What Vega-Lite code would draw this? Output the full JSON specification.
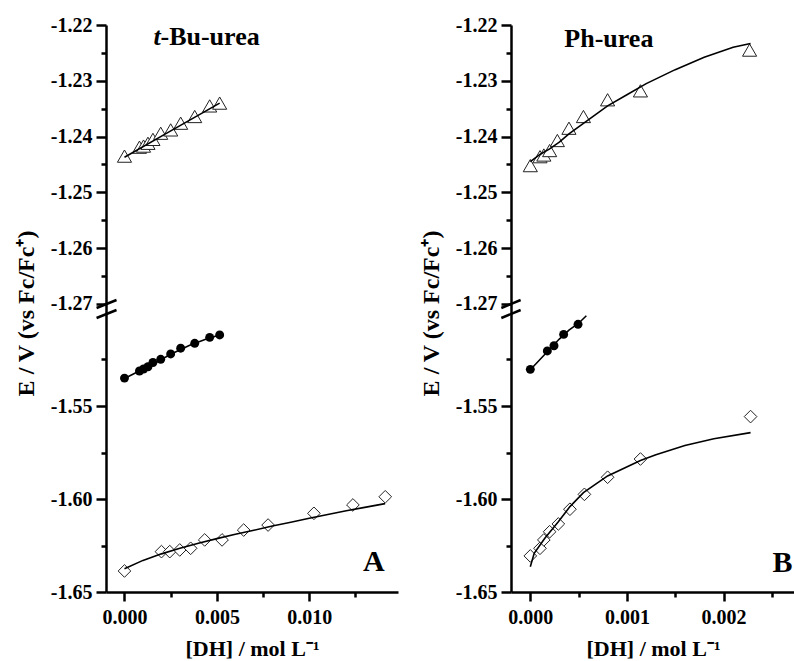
{
  "$schema": "https://vega.github.io/schema/vega-lite/v6.json",
  "background": "white",
  "padding": {"left": 14, "top": 15, "right": 0, "bottom": 0},
  "config": {
    "view": {"stroke": null},
    "font": "Liberation Serif",
    "locale": {"number": {"decimal": ".", "thousands": ",", "grouping": [3], "currency": ["$", ""], "minus": "-"}},
    "axis": {
      "grid": false,
      "domainColor": "black",
      "domainWidth": 2.5,
      "tickColor": "black",
      "tickWidth": 2.5,
      "labelColor": "black",
      "labelFont": "Liberation Serif",
      "labelFontWeight": "bold",
      "labelFontSize": 20,
      "titleColor": "black",
      "titleFont": "Liberation Serif",
      "titleFontWeight": "bold",
      "titleFontSize": 22
    }
  },
  "datasets": {
    "pts": [
      {"p": "A", "s": "tri", "x": 0, "y": -1.2435},
      {"p": "A", "s": "tri", "x": 0.00081, "y": -1.2419},
      {"p": "A", "s": "tri", "x": 0.00103, "y": -1.2417},
      {"p": "A", "s": "tri", "x": 0.00127, "y": -1.2412},
      {"p": "A", "s": "tri", "x": 0.00154, "y": -1.2405},
      {"p": "A", "s": "tri", "x": 0.00196, "y": -1.2394},
      {"p": "A", "s": "tri", "x": 0.0025, "y": -1.2388},
      {"p": "A", "s": "tri", "x": 0.00304, "y": -1.2376},
      {"p": "A", "s": "tri", "x": 0.0038, "y": -1.2364},
      {"p": "A", "s": "tri", "x": 0.00461, "y": -1.2345},
      {"p": "A", "s": "tri", "x": 0.00515, "y": -1.234},
      {"p": "A", "s": "cir", "x": 0, "y": -1.535},
      {"p": "A", "s": "cir", "x": 0.00081, "y": -1.5312},
      {"p": "A", "s": "cir", "x": 0.00103, "y": -1.5301},
      {"p": "A", "s": "cir", "x": 0.00127, "y": -1.5289},
      {"p": "A", "s": "cir", "x": 0.00154, "y": -1.5266},
      {"p": "A", "s": "cir", "x": 0.00196, "y": -1.5249},
      {"p": "A", "s": "cir", "x": 0.0025, "y": -1.522},
      {"p": "A", "s": "cir", "x": 0.00304, "y": -1.5189},
      {"p": "A", "s": "cir", "x": 0.0038, "y": -1.5163},
      {"p": "A", "s": "cir", "x": 0.00461, "y": -1.5131},
      {"p": "A", "s": "cir", "x": 0.00515, "y": -1.5118},
      {"p": "A", "s": "dia", "x": 0, "y": -1.6387},
      {"p": "A", "s": "dia", "x": 0.002, "y": -1.6283},
      {"p": "A", "s": "dia", "x": 0.00245, "y": -1.6283},
      {"p": "A", "s": "dia", "x": 0.00299, "y": -1.6274},
      {"p": "A", "s": "dia", "x": 0.00358, "y": -1.6265},
      {"p": "A", "s": "dia", "x": 0.00434, "y": -1.622},
      {"p": "A", "s": "dia", "x": 0.00528, "y": -1.622},
      {"p": "A", "s": "dia", "x": 0.00645, "y": -1.6167},
      {"p": "A", "s": "dia", "x": 0.00777, "y": -1.614},
      {"p": "A", "s": "dia", "x": 0.01025, "y": -1.6077},
      {"p": "A", "s": "dia", "x": 0.01236, "y": -1.6032},
      {"p": "A", "s": "dia", "x": 0.01411, "y": -1.5988},
      {"p": "B", "s": "tri", "x": 0, "y": -1.2452},
      {"p": "B", "s": "tri", "x": 0.0001, "y": -1.2436},
      {"p": "B", "s": "tri", "x": 0.00014, "y": -1.2433},
      {"p": "B", "s": "tri", "x": 0.0002, "y": -1.2425},
      {"p": "B", "s": "tri", "x": 0.00028, "y": -1.2407},
      {"p": "B", "s": "tri", "x": 0.0004, "y": -1.2385},
      {"p": "B", "s": "tri", "x": 0.00055, "y": -1.2364},
      {"p": "B", "s": "tri", "x": 0.0008, "y": -1.2334},
      {"p": "B", "s": "tri", "x": 0.00114, "y": -1.2318},
      {"p": "B", "s": "tri", "x": 0.00227, "y": -1.2245},
      {"p": "B", "s": "cir", "x": 0, "y": -1.5303},
      {"p": "B", "s": "cir", "x": 0.000176, "y": -1.5204},
      {"p": "B", "s": "cir", "x": 0.000245, "y": -1.5176},
      {"p": "B", "s": "cir", "x": 0.000345, "y": -1.5115},
      {"p": "B", "s": "cir", "x": 0.000494, "y": -1.5061},
      {"p": "B", "s": "dia", "x": 0, "y": -1.6306},
      {"p": "B", "s": "dia", "x": 0.0001, "y": -1.6265},
      {"p": "B", "s": "dia", "x": 0.00014, "y": -1.622},
      {"p": "B", "s": "dia", "x": 0.0002, "y": -1.6176},
      {"p": "B", "s": "dia", "x": 0.00029, "y": -1.6134},
      {"p": "B", "s": "dia", "x": 0.00041, "y": -1.6055},
      {"p": "B", "s": "dia", "x": 0.00056, "y": -1.5975},
      {"p": "B", "s": "dia", "x": 0.0008, "y": -1.5883},
      {"p": "B", "s": "dia", "x": 0.00114, "y": -1.5785},
      {"p": "B", "s": "dia", "x": 0.00228, "y": -1.5557}
    ],
    "fit": [
      {"p": "A", "s": "tri", "x": 0, "y": -1.2437},
      {"p": "A", "s": "tri", "x": 0.0026, "y": -1.2388},
      {"p": "A", "s": "tri", "x": 0.00515, "y": -1.234},
      {"p": "A", "s": "cir", "x": 0, "y": -1.5352},
      {"p": "A", "s": "cir", "x": 0.0008, "y": -1.5312},
      {"p": "A", "s": "cir", "x": 0.0016, "y": -1.5272},
      {"p": "A", "s": "cir", "x": 0.0025, "y": -1.5222},
      {"p": "A", "s": "cir", "x": 0.0035, "y": -1.5175},
      {"p": "A", "s": "cir", "x": 0.0045, "y": -1.5137},
      {"p": "A", "s": "cir", "x": 0.00515, "y": -1.5118},
      {"p": "A", "s": "dia", "x": 0, "y": -1.6375},
      {"p": "A", "s": "dia", "x": 0.001, "y": -1.633},
      {"p": "A", "s": "dia", "x": 0.002, "y": -1.6295},
      {"p": "A", "s": "dia", "x": 0.003, "y": -1.6265},
      {"p": "A", "s": "dia", "x": 0.004, "y": -1.6238},
      {"p": "A", "s": "dia", "x": 0.005, "y": -1.6213},
      {"p": "A", "s": "dia", "x": 0.006, "y": -1.619},
      {"p": "A", "s": "dia", "x": 0.007, "y": -1.6168},
      {"p": "A", "s": "dia", "x": 0.008, "y": -1.6145},
      {"p": "A", "s": "dia", "x": 0.009, "y": -1.6125},
      {"p": "A", "s": "dia", "x": 0.01, "y": -1.6103},
      {"p": "A", "s": "dia", "x": 0.011, "y": -1.6083},
      {"p": "A", "s": "dia", "x": 0.012, "y": -1.6063},
      {"p": "A", "s": "dia", "x": 0.013, "y": -1.6045},
      {"p": "A", "s": "dia", "x": 0.0141, "y": -1.6025},
      {"p": "B", "s": "tri", "x": 0, "y": -1.2445},
      {"p": "B", "s": "tri", "x": 0.0001, "y": -1.2432},
      {"p": "B", "s": "tri", "x": 0.0002, "y": -1.2422},
      {"p": "B", "s": "tri", "x": 0.0003, "y": -1.241},
      {"p": "B", "s": "tri", "x": 0.0004, "y": -1.2395},
      {"p": "B", "s": "tri", "x": 0.0006, "y": -1.237},
      {"p": "B", "s": "tri", "x": 0.0008, "y": -1.2345},
      {"p": "B", "s": "tri", "x": 0.001, "y": -1.2325},
      {"p": "B", "s": "tri", "x": 0.0012, "y": -1.2305},
      {"p": "B", "s": "tri", "x": 0.0015, "y": -1.228},
      {"p": "B", "s": "tri", "x": 0.0018, "y": -1.2258},
      {"p": "B", "s": "tri", "x": 0.0021, "y": -1.224},
      {"p": "B", "s": "tri", "x": 0.00228, "y": -1.2233},
      {"p": "B", "s": "cir", "x": 0, "y": -1.5305},
      {"p": "B", "s": "cir", "x": 0.0001, "y": -1.525},
      {"p": "B", "s": "cir", "x": 0.0002, "y": -1.5195},
      {"p": "B", "s": "cir", "x": 0.0003, "y": -1.514},
      {"p": "B", "s": "cir", "x": 0.0004, "y": -1.5092},
      {"p": "B", "s": "cir", "x": 0.0005, "y": -1.5055},
      {"p": "B", "s": "cir", "x": 0.00058, "y": -1.5015},
      {"p": "B", "s": "dia", "x": 0, "y": -1.6364},
      {"p": "B", "s": "dia", "x": 0.00004, "y": -1.6292},
      {"p": "B", "s": "dia", "x": 0.00015, "y": -1.6211},
      {"p": "B", "s": "dia", "x": 0.00029, "y": -1.6122},
      {"p": "B", "s": "dia", "x": 0.00041, "y": -1.6041},
      {"p": "B", "s": "dia", "x": 0.00055, "y": -1.5966},
      {"p": "B", "s": "dia", "x": 0.0008, "y": -1.5876},
      {"p": "B", "s": "dia", "x": 0.00114, "y": -1.5793},
      {"p": "B", "s": "dia", "x": 0.0013, "y": -1.5762},
      {"p": "B", "s": "dia", "x": 0.0016, "y": -1.5712},
      {"p": "B", "s": "dia", "x": 0.0019, "y": -1.5676},
      {"p": "B", "s": "dia", "x": 0.00228, "y": -1.5643}
    ],
    "lab": [
      {"p": "A", "k": "ital", "t": "t", "x": 0.00157, "y": -1.2236},
      {"p": "A", "k": "name", "t": "-Bu-urea", "x": 0.00157, "y": -1.2236},
      {"p": "B", "k": "name", "t": "Ph-urea", "x": 0.000352, "y": -1.2239},
      {"p": "A", "k": "letter", "t": "A", "x": 0.0129, "y": -1.6387},
      {"p": "B", "k": "letter", "t": "B", "x": 0.002508, "y": -1.6392}
    ],
    "brk": [
      {"p": "A", "x": -0.00151, "y": -1.27072, "x2": -0.00043, "y2": -1.26928},
      {"p": "A", "x": -0.00151, "y": -1.27251, "x2": -0.00043, "y2": -1.27108},
      {"p": "B", "x": -0.0003, "y": -1.27072, "x2": -0.0001, "y2": -1.26928},
      {"p": "B", "x": -0.0003, "y": -1.27251, "x2": -0.0001, "y2": -1.27108}
    ]
  },
  "spacing": 21,
  "hconcat": [
    {
      "bounds": "flush",
      "spacing": 0,
      "vconcat": [
        {
          "width": 292,
          "height": 288,
          "resolve": {"axis": {"x": "independent", "y": "independent"}},
          "layer": [
            {
              "data": {"name": "pts"},
              "transform": [{"filter": "datum.p === 'A' && datum.s === 'tri'"}],
              "mark": {"type": "point", "shape": "triangle-up", "filled": true, "fill": "white", "stroke": "#222", "strokeWidth": 1, "size": 200, "opacity": 1},
              "encoding": {
                "x": {"field": "x", "type": "quantitative", "scale": {"domain": [-0.001, 0.0148], "nice": false, "zero": false}, "axis": null},
                "y": {"field": "y", "type": "quantitative", "scale": {"domain": [-1.271613, -1.22], "nice": false, "zero": false},
                  "axis": {"orient": "left", "values": [-1.27, -1.26, -1.25, -1.24, -1.23, -1.22], "format": ".2f", "tickSize": 10, "labelPadding": 4,
                    "title": "E / V (vs Fc/Fc⁺)", "titleFontSize": 24, "titleAngle": -90, "titleX": -73, "titleY": 288, "titleAlign": "center", "titleBaseline": "alphabetic"}}
              }
            },
            {
              "data": {"name": "fit"},
              "transform": [{"filter": "datum.p === 'A' && datum.s === 'tri'"}],
              "mark": {"type": "line", "color": "black", "strokeWidth": 1.6},
              "encoding": {
                "x": {"field": "x", "type": "quantitative", "scale": {"domain": [-0.001, 0.0148], "nice": false, "zero": false}, "axis": null},
                "y": {"field": "y", "type": "quantitative", "scale": {"domain": [-1.271613, -1.22], "nice": false, "zero": false},
                  "axis": {"orient": "left", "values": [-1.265, -1.255, -1.245, -1.235, -1.225], "labels": false, "domain": false, "tickSize": 5, "title": null}}
              }
            },
            {
              "data": {"name": "lab"},
              "transform": [{"filter": "datum.p === 'A' && datum.k === 'ital'"}],
              "mark": {"type": "text", "align": "left", "baseline": "alphabetic", "font": "Liberation Serif", "fontSize": 26, "fontWeight": "bold", "fontStyle": "italic", "color": "black"},
              "encoding": {
                "x": {"field": "x", "type": "quantitative", "scale": {"domain": [-0.001, 0.0148], "nice": false, "zero": false}, "axis": null},
                "y": {"field": "y", "type": "quantitative", "scale": {"domain": [-1.271613, -1.22], "nice": false, "zero": false}, "axis": null},
                "text": {"field": "t"}
              }
            },
            {
              "data": {"name": "lab"},
              "transform": [{"filter": "datum.p === 'A' && datum.k === 'name'"}],
              "mark": {"type": "text", "align": "left", "baseline": "alphabetic", "dx": 7, "font": "Liberation Serif", "fontSize": 26, "fontWeight": "bold", "color": "black"},
              "encoding": {
                "x": {"field": "x", "type": "quantitative", "scale": {"domain": [-0.001, 0.0148], "nice": false, "zero": false}, "axis": null},
                "y": {"field": "y", "type": "quantitative", "scale": {"domain": [-1.271613, -1.22], "nice": false, "zero": false}, "axis": null},
                "text": {"field": "t"}
              }
            },
            {
              "data": {"name": "brk"},
              "transform": [{"filter": "datum.p === 'A'"}],
              "mark": {"type": "rule", "color": "black", "strokeWidth": 2.5},
              "encoding": {
                "x": {"field": "x", "type": "quantitative", "scale": {"domain": [-0.001, 0.0148], "nice": false, "zero": false}, "axis": null},
                "y": {"field": "y", "type": "quantitative", "scale": {"domain": [-1.271613, -1.22], "nice": false, "zero": false}, "axis": null},
                "x2": {"field": "x2"},
                "y2": {"field": "y2"}
              }
            }
          ]
        },
        {
          "width": 292,
          "height": 279,
          "resolve": {"axis": {"x": "independent", "y": "independent"}},
          "layer": [
            {
              "data": {"name": "pts"},
              "transform": [{"filter": "datum.p === 'A' && datum.s === 'dia'"}],
              "mark": {"type": "point", "shape": "diamond", "filled": true, "fill": "white", "stroke": "#222", "strokeWidth": 1, "size": 160, "opacity": 1},
              "encoding": {
                "x": {"field": "x", "type": "quantitative", "scale": {"domain": [-0.001, 0.0148], "nice": false, "zero": false},
                  "axis": {"orient": "bottom", "values": [0, 0.005, 0.01], "format": ".3f", "tickSize": 9, "labelPadding": 6,
                    "title": "[DH] / mol L⁻¹", "titleY": 63, "titleBaseline": "alphabetic"}},
                "y": {"field": "y", "type": "quantitative", "scale": {"domain": [-1.65, -1.5], "nice": false, "zero": false},
                  "axis": {"orient": "left", "values": [-1.65, -1.6, -1.55], "format": ".2f", "tickSize": 10, "labelPadding": 4, "title": null}}
              }
            },
            {
              "data": {"name": "pts"},
              "transform": [{"filter": "datum.p === 'A' && datum.s === 'cir'"}],
              "mark": {"type": "point", "shape": "circle", "filled": true, "color": "black", "size": 80, "opacity": 1},
              "encoding": {
                "x": {"field": "x", "type": "quantitative", "scale": {"domain": [-0.001, 0.0148], "nice": false, "zero": false}, "axis": null},
                "y": {"field": "y", "type": "quantitative", "scale": {"domain": [-1.65, -1.5], "nice": false, "zero": false}, "axis": null}
              }
            },
            {
              "data": {"name": "fit"},
              "transform": [{"filter": "datum.p === 'A' && datum.s !== 'tri'"}],
              "mark": {"type": "line", "color": "black", "strokeWidth": 1.6},
              "encoding": {
                "x": {"field": "x", "type": "quantitative", "scale": {"domain": [-0.001, 0.0148], "nice": false, "zero": false},
                  "axis": {"orient": "bottom", "values": [0.0025, 0.0075, 0.0125], "labels": false, "domain": false, "tickSize": 5, "title": null}},
                "y": {"field": "y", "type": "quantitative", "scale": {"domain": [-1.65, -1.5], "nice": false, "zero": false},
                  "axis": {"orient": "left", "values": [-1.625, -1.575, -1.525], "labels": false, "domain": false, "tickSize": 5, "title": null}},
                "detail": {"field": "s"}
              }
            },
            {
              "data": {"name": "lab"},
              "transform": [{"filter": "datum.p === 'A' && datum.k === 'letter'"}],
              "mark": {"type": "text", "align": "left", "baseline": "alphabetic", "font": "Liberation Serif", "fontSize": 30, "fontWeight": "bold", "color": "black"},
              "encoding": {
                "x": {"field": "x", "type": "quantitative", "scale": {"domain": [-0.001, 0.0148], "nice": false, "zero": false}, "axis": null},
                "y": {"field": "y", "type": "quantitative", "scale": {"domain": [-1.65, -1.5], "nice": false, "zero": false}, "axis": null},
                "text": {"field": "t"}
              }
            }
          ]
        }
      ]
    },
    {
      "bounds": "flush",
      "spacing": 0,
      "vconcat": [
        {
          "width": 284,
          "height": 288,
          "resolve": {"axis": {"x": "independent", "y": "independent"}},
          "layer": [
            {
              "data": {"name": "pts"},
              "transform": [{"filter": "datum.p === 'B' && datum.s === 'tri'"}],
              "mark": {"type": "point", "shape": "triangle-up", "filled": true, "fill": "white", "stroke": "#222", "strokeWidth": 1, "size": 200, "opacity": 1},
              "encoding": {
                "x": {"field": "x", "type": "quantitative", "scale": {"domain": [-0.0002, 0.00274], "nice": false, "zero": false}, "axis": null},
                "y": {"field": "y", "type": "quantitative", "scale": {"domain": [-1.271613, -1.22], "nice": false, "zero": false},
                  "axis": {"orient": "left", "values": [-1.27, -1.26, -1.25, -1.24, -1.23, -1.22], "format": ".2f", "tickSize": 10, "labelPadding": 4,
                    "title": "E / V (vs Fc/Fc⁺)", "titleFontSize": 24, "titleAngle": -90, "titleX": -73, "titleY": 288, "titleAlign": "center", "titleBaseline": "alphabetic"}}
              }
            },
            {
              "data": {"name": "fit"},
              "transform": [{"filter": "datum.p === 'B' && datum.s === 'tri'"}],
              "mark": {"type": "line", "color": "black", "strokeWidth": 1.6},
              "encoding": {
                "x": {"field": "x", "type": "quantitative", "scale": {"domain": [-0.0002, 0.00274], "nice": false, "zero": false}, "axis": null},
                "y": {"field": "y", "type": "quantitative", "scale": {"domain": [-1.271613, -1.22], "nice": false, "zero": false},
                  "axis": {"orient": "left", "values": [-1.265, -1.255, -1.245, -1.235, -1.225], "labels": false, "domain": false, "tickSize": 5, "title": null}}
              }
            },
            {
              "data": {"name": "lab"},
              "transform": [{"filter": "datum.p === 'B' && datum.k === 'name'"}],
              "mark": {"type": "text", "align": "left", "baseline": "alphabetic", "font": "Liberation Serif", "fontSize": 26, "fontWeight": "bold", "color": "black"},
              "encoding": {
                "x": {"field": "x", "type": "quantitative", "scale": {"domain": [-0.0002, 0.00274], "nice": false, "zero": false}, "axis": null},
                "y": {"field": "y", "type": "quantitative", "scale": {"domain": [-1.271613, -1.22], "nice": false, "zero": false}, "axis": null},
                "text": {"field": "t"}
              }
            },
            {
              "data": {"name": "brk"},
              "transform": [{"filter": "datum.p === 'B'"}],
              "mark": {"type": "rule", "color": "black", "strokeWidth": 2.5},
              "encoding": {
                "x": {"field": "x", "type": "quantitative", "scale": {"domain": [-0.0002, 0.00274], "nice": false, "zero": false}, "axis": null},
                "y": {"field": "y", "type": "quantitative", "scale": {"domain": [-1.271613, -1.22], "nice": false, "zero": false}, "axis": null},
                "x2": {"field": "x2"},
                "y2": {"field": "y2"}
              }
            }
          ]
        },
        {
          "width": 284,
          "height": 279,
          "resolve": {"axis": {"x": "independent", "y": "independent"}},
          "layer": [
            {
              "data": {"name": "pts"},
              "transform": [{"filter": "datum.p === 'B' && datum.s === 'dia'"}],
              "mark": {"type": "point", "shape": "diamond", "filled": true, "fill": "white", "stroke": "#222", "strokeWidth": 1, "size": 160, "opacity": 1},
              "encoding": {
                "x": {"field": "x", "type": "quantitative", "scale": {"domain": [-0.0002, 0.00274], "nice": false, "zero": false},
                  "axis": {"orient": "bottom", "values": [0, 0.001, 0.002], "format": ".3f", "tickSize": 9, "labelPadding": 6,
                    "title": "[DH] / mol L⁻¹", "titleY": 63, "titleBaseline": "alphabetic"}},
                "y": {"field": "y", "type": "quantitative", "scale": {"domain": [-1.65, -1.5], "nice": false, "zero": false},
                  "axis": {"orient": "left", "values": [-1.65, -1.6, -1.55], "format": ".2f", "tickSize": 10, "labelPadding": 4, "title": null}}
              }
            },
            {
              "data": {"name": "pts"},
              "transform": [{"filter": "datum.p === 'B' && datum.s === 'cir'"}],
              "mark": {"type": "point", "shape": "circle", "filled": true, "color": "black", "size": 80, "opacity": 1},
              "encoding": {
                "x": {"field": "x", "type": "quantitative", "scale": {"domain": [-0.0002, 0.00274], "nice": false, "zero": false}, "axis": null},
                "y": {"field": "y", "type": "quantitative", "scale": {"domain": [-1.65, -1.5], "nice": false, "zero": false}, "axis": null}
              }
            },
            {
              "data": {"name": "fit"},
              "transform": [{"filter": "datum.p === 'B' && datum.s !== 'tri'"}],
              "mark": {"type": "line", "color": "black", "strokeWidth": 1.6},
              "encoding": {
                "x": {"field": "x", "type": "quantitative", "scale": {"domain": [-0.0002, 0.00274], "nice": false, "zero": false},
                  "axis": {"orient": "bottom", "values": [0.0005, 0.0015, 0.0025], "labels": false, "domain": false, "tickSize": 5, "title": null}},
                "y": {"field": "y", "type": "quantitative", "scale": {"domain": [-1.65, -1.5], "nice": false, "zero": false},
                  "axis": {"orient": "left", "values": [-1.625, -1.575, -1.525], "labels": false, "domain": false, "tickSize": 5, "title": null}},
                "detail": {"field": "s"}
              }
            },
            {
              "data": {"name": "lab"},
              "transform": [{"filter": "datum.p === 'B' && datum.k === 'letter'"}],
              "mark": {"type": "text", "align": "left", "baseline": "alphabetic", "font": "Liberation Serif", "fontSize": 30, "fontWeight": "bold", "color": "black"},
              "encoding": {
                "x": {"field": "x", "type": "quantitative", "scale": {"domain": [-0.0002, 0.00274], "nice": false, "zero": false}, "axis": null},
                "y": {"field": "y", "type": "quantitative", "scale": {"domain": [-1.65, -1.5], "nice": false, "zero": false}, "axis": null},
                "text": {"field": "t"}
              }
            }
          ]
        }
      ]
    }
  ]
}
